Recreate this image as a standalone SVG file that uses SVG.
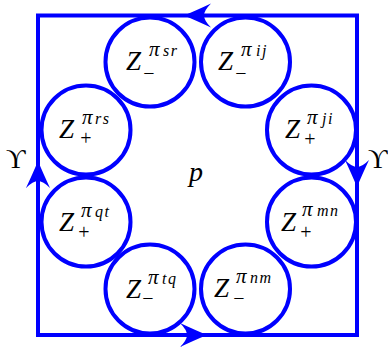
<svg xmlns="http://www.w3.org/2000/svg" width="388" height="347" viewBox="0 0 388 347">
<style>
.ln{fill:none;stroke:#0000ff;stroke-width:4}
.c{fill:none;stroke:#0000ff;stroke-width:4}
.ah{fill:#0000ff;stroke:none}
text{font-family:"Liberation Serif","DejaVu Serif",serif;fill:#000}
.z{font-size:27px;font-style:italic}
.pi{font-size:21px;font-style:italic}
.s{font-size:16px;font-style:italic;letter-spacing:1.5px}
.g{font-size:20px;text-anchor:middle}
.big{font-size:28px;font-style:italic}
.u{font-size:27px}
</style>
<defs>
<path id="arr" d="M0,0 Q-12,-5 -27,-12 Q-20,-5 -20,0 Q-20,5 -27,12 Q-12,5 0,0 Z"/>
</defs>
<g id="connectors">
<rect class="ln" x="38" y="15.5" width="319" height="319.5"/>
<use href="#arr" class="ah" transform="translate(184,15.5) rotate(180)"/>
<use href="#arr" class="ah" transform="translate(357,187) rotate(90)"/>
<use href="#arr" class="ah" transform="translate(207,335)"/>
<use href="#arr" class="ah" transform="translate(38,161) rotate(-90)"/>
</g>
<g id="n-sr">
<circle class="c" cx="150" cy="62" r="44.5"/>
<text class="z" x="126" y="70">Z</text><text class="pi" x="149" y="56">π</text><text class="s" x="163" y="56">sr</text><text class="g" x="149" y="80">−</text>
</g>
<g id="n-ij">
<circle class="c" cx="245.5" cy="62" r="44.5"/>
<text class="z" x="218" y="70">Z</text><text class="pi" x="241" y="56">π</text><text class="s" x="256" y="56">ij</text><text class="g" x="241" y="80">−</text>
</g>
<g id="n-rs">
<circle class="c" cx="86" cy="130" r="44.5"/>
<text class="z" x="59" y="138">Z</text><text class="pi" x="82" y="124">π</text><text class="s" x="95" y="124">rs</text><text class="g" x="86" y="145">+</text>
</g>
<g id="n-ji">
<circle class="c" cx="311.5" cy="130" r="44.5"/>
<text class="z" x="285" y="138">Z</text><text class="pi" x="307" y="124">π</text><text class="s" x="322" y="124">ji</text><text class="g" x="310" y="146">+</text>
</g>
<g id="n-qt">
<circle class="c" cx="86" cy="222" r="44.5"/>
<text class="z" x="59" y="231">Z</text><text class="pi" x="81" y="217">π</text><text class="s" x="95" y="217">qt</text><text class="g" x="84" y="239">+</text>
</g>
<g id="n-mn">
<circle class="c" cx="311.5" cy="222" r="44.5"/>
<text class="z" x="281" y="231">Z</text><text class="pi" x="302" y="216">π</text><text class="s" x="317" y="216">mn</text><text class="g" x="306" y="239">+</text>
</g>
<g id="n-tq">
<circle class="c" cx="150" cy="289" r="44.5"/>
<text class="z" x="126" y="298">Z</text><text class="pi" x="148" y="284">π</text><text class="s" x="162" y="284">tq</text><text class="g" x="148" y="305">−</text>
</g>
<g id="n-nm">
<circle class="c" cx="245.5" cy="289" r="44.5"/>
<text class="z" x="214" y="297">Z</text><text class="pi" x="236" y="283">π</text><text class="s" x="250" y="283">nm</text><text class="g" x="239" y="305">−</text>
</g>
<g id="labels">
<text class="big" x="189" y="181">p</text>
<text class="u" x="6" y="168">ϒ</text>
<text class="u" x="368" y="168">ϒ</text>
</g>
</svg>
